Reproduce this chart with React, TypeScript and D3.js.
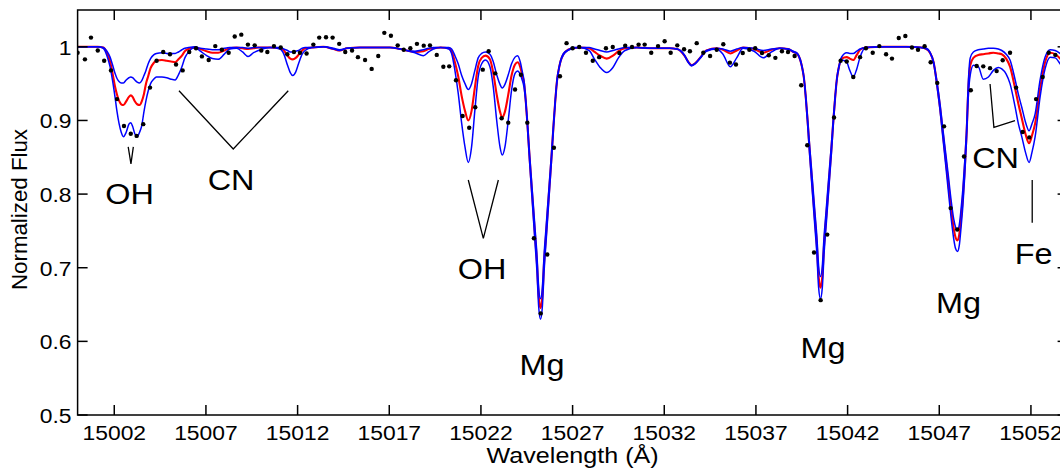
import React from "react";
import * as d3 from "d3";

// ---- model spectra (shared wavelength grid) ----
const wavelength = [
  15000.0, 15000.6, 15001.1, 15001.4, 15001.6, 15001.77, 15001.9, 15002.04, 15002.15, 15002.26,
  15002.38, 15002.5, 15002.65, 15002.8, 15002.9, 15003.0, 15003.12, 15003.25, 15003.38, 15003.5,
  15003.62, 15003.73, 15003.85, 15003.98, 15004.15, 15004.3, 15004.6, 15004.86, 15005.1, 15005.32,
  15005.5, 15005.69, 15005.85, 15006.05, 15006.4, 15006.7, 15007.04, 15007.35, 15007.67, 15008.0,
  15008.3, 15008.67, 15009.0, 15009.3, 15009.6, 15009.86, 15010.5, 15011.04, 15011.25, 15011.45,
  15011.6, 15011.74, 15011.9, 15012.05, 15012.25, 15012.41, 15012.78, 15013.4, 15013.96, 15014.3,
  15014.69, 15015.4, 15017.04, 15017.6, 15017.95, 15018.4, 15018.86, 15019.15, 15019.4, 15019.8,
  15020.25, 15020.4, 15020.58, 15020.76, 15020.95, 15021.13, 15021.31, 15021.49, 15021.67, 15021.85,
  15022.04, 15022.25, 15022.49, 15022.67, 15022.86, 15023.04, 15023.16, 15023.31, 15023.49, 15023.67,
  15023.86, 15024.0, 15024.15, 15024.25, 15024.35, 15024.45, 15024.55, 15024.65, 15024.75, 15024.85,
  15024.95, 15025.05, 15025.15, 15025.25, 15025.35, 15025.45, 15025.55, 15025.65, 15025.75, 15025.85,
  15025.95, 15026.05, 15026.15, 15026.25, 15026.35, 15026.5, 15026.75, 15027.05, 15027.4, 15027.9,
  15028.2, 15028.5, 15028.86, 15029.2, 15029.5, 15029.86, 15030.5, 15031.4, 15032.3, 15032.7,
  15033.1, 15033.3, 15033.49, 15033.7, 15033.95, 15034.3, 15034.86, 15035.2, 15035.6, 15035.95,
  15036.3, 15036.9, 15037.4, 15037.85, 15038.3, 15038.75, 15039.04, 15039.27, 15039.42, 15039.52,
  15039.62, 15039.72, 15039.82, 15039.92, 15040.02, 15040.12, 15040.22, 15040.32, 15040.42, 15040.52,
  15040.62, 15040.72, 15040.82, 15040.92, 15041.02, 15041.12, 15041.22, 15041.32, 15041.42, 15041.52,
  15041.67, 15041.95, 15042.12, 15042.31, 15042.5, 15042.68, 15043.0, 15044.0, 15045.2, 15046.0,
  15046.3, 15046.49, 15046.69, 15046.89, 15047.04, 15047.19, 15047.34, 15047.49, 15047.64, 15047.79,
  15047.89, 15047.99, 15048.09, 15048.19, 15048.29, 15048.39, 15048.49, 15048.59, 15048.69, 15048.86,
  15049.13, 15049.4, 15049.68, 15049.95, 15050.22, 15050.41, 15050.65, 15050.86, 15051.14, 15051.32,
  15051.5, 15051.7, 15051.9, 15052.05, 15052.23, 15052.5, 15052.77, 15053.05, 15053.32, 15053.59,
  15054.0,
];

// strong-abundance model (lower blue)
const fluxHigh = [
  1.0, 1.0, 1.0, 0.998, 0.988, 0.973, 0.955, 0.932, 0.912, 0.896,
  0.884, 0.878, 0.884, 0.895, 0.897, 0.892, 0.882, 0.878, 0.884, 0.893,
  0.912, 0.927, 0.94, 0.95, 0.956, 0.959, 0.959, 0.958, 0.956, 0.955,
  0.962, 0.973, 0.985, 0.993, 0.999, 0.994, 0.988, 0.984, 0.983, 0.99,
  0.997, 0.998, 0.993, 0.987, 0.992, 0.995, 0.999, 0.997, 0.99, 0.975,
  0.965, 0.961, 0.966, 0.977, 0.99, 0.995, 0.999, 1.0, 0.997, 0.995,
  0.998, 0.999, 0.999, 0.997, 0.995, 0.992, 0.988, 0.993, 0.997, 0.999,
  0.997, 0.991, 0.968, 0.937, 0.896, 0.864, 0.843, 0.864, 0.914, 0.959,
  0.977, 0.982, 0.973, 0.946, 0.9, 0.864, 0.853, 0.864, 0.9, 0.941,
  0.964, 0.967, 0.962, 0.955, 0.945, 0.922, 0.885, 0.845, 0.808, 0.771,
  0.734, 0.697, 0.647, 0.63, 0.647, 0.697, 0.734, 0.771, 0.808, 0.845,
  0.885, 0.922, 0.952, 0.969, 0.98, 0.989, 0.995, 0.998, 0.999, 0.995,
  0.983, 0.972, 0.965, 0.972, 0.985, 0.995, 0.999, 0.998, 0.998, 0.997,
  0.988, 0.979, 0.974, 0.977, 0.984, 0.994, 0.997, 0.99, 0.973, 0.985,
  0.998, 0.994, 0.985, 0.993, 0.998, 0.997, 0.993, 0.99, 0.981, 0.971,
  0.956, 0.928, 0.894, 0.856, 0.822, 0.788, 0.754, 0.72, 0.673, 0.658,
  0.673, 0.72, 0.754, 0.788, 0.822, 0.856, 0.894, 0.928, 0.956, 0.971,
  0.982, 0.979, 0.968, 0.959, 0.97, 0.986, 0.999, 1.0, 1.0, 0.999,
  0.997, 0.992, 0.978, 0.944, 0.914, 0.878, 0.842, 0.805, 0.769, 0.739,
  0.726, 0.722, 0.73, 0.755, 0.785, 0.825, 0.875, 0.935, 0.962, 0.975,
  0.973, 0.956, 0.959, 0.968, 0.972, 0.97, 0.963, 0.95, 0.918, 0.895,
  0.878, 0.857, 0.843, 0.856, 0.878, 0.932, 0.97, 0.986, 0.985, 0.977,
  0.96,
];

// best-fit model (red)
const fluxBest = [
  1.0, 1.0, 1.0, 0.999, 0.992, 0.98, 0.965, 0.946, 0.935, 0.927,
  0.922, 0.921, 0.926, 0.932, 0.934, 0.932, 0.926, 0.922, 0.921, 0.926,
  0.936, 0.95, 0.96, 0.971, 0.978, 0.981, 0.982, 0.981, 0.98, 0.979,
  0.983, 0.988, 0.994, 0.997, 0.999, 0.997, 0.994, 0.992, 0.992, 0.995,
  0.998, 0.999, 0.998, 0.997, 0.998, 0.999, 0.999, 0.998, 0.995, 0.988,
  0.984, 0.983, 0.985, 0.989, 0.995, 0.998, 0.999, 1.0, 0.997, 0.995,
  0.998, 0.999, 0.999, 0.997, 0.995, 0.993, 0.994, 0.997, 0.998, 0.999,
  0.998, 0.994, 0.979, 0.96, 0.933, 0.913, 0.9, 0.913, 0.945, 0.974,
  0.985, 0.988, 0.983, 0.965, 0.935, 0.912, 0.904, 0.912, 0.935, 0.961,
  0.976, 0.979, 0.972, 0.962, 0.951, 0.925, 0.89, 0.851, 0.815, 0.78,
  0.744, 0.709, 0.661, 0.645, 0.661, 0.709, 0.744, 0.78, 0.815, 0.851,
  0.89, 0.925, 0.954, 0.97, 0.981, 0.99, 0.996, 0.998, 0.999, 0.998,
  0.993, 0.988, 0.984, 0.988, 0.994, 0.998, 0.999, 0.998, 0.998, 0.997,
  0.988, 0.98, 0.975, 0.978, 0.985, 0.995, 0.998, 0.996, 0.991, 0.995,
  0.999, 0.997, 0.992, 0.996, 0.998, 0.997, 0.993, 0.99, 0.982, 0.972,
  0.957, 0.931, 0.899, 0.863, 0.83, 0.797, 0.765, 0.732, 0.688, 0.673,
  0.688, 0.732, 0.765, 0.797, 0.83, 0.863, 0.899, 0.931, 0.957, 0.972,
  0.984, 0.986, 0.984, 0.982, 0.989, 0.996, 0.999, 1.0, 1.0, 0.999,
  0.997, 0.992, 0.979, 0.947, 0.918, 0.884, 0.85, 0.816, 0.782, 0.753,
  0.741, 0.737, 0.745, 0.768, 0.797, 0.835, 0.882, 0.945, 0.975, 0.985,
  0.989, 0.99, 0.991, 0.992, 0.991, 0.99, 0.984, 0.973, 0.943, 0.922,
  0.903, 0.882, 0.869, 0.879, 0.896, 0.943, 0.979, 0.992, 0.99, 0.984,
  0.97,
];

// weak-abundance model (upper blue)
const fluxLow = [
  1.0, 1.0, 1.0, 0.999, 0.994, 0.986, 0.976, 0.964, 0.957, 0.953,
  0.951, 0.951, 0.955, 0.958, 0.959, 0.958, 0.955, 0.952, 0.951, 0.954,
  0.961, 0.968, 0.977, 0.984, 0.989, 0.991, 0.992, 0.991, 0.991, 0.991,
  0.993, 0.996, 0.998, 0.999, 1.0, 0.998, 0.997, 0.996, 0.996, 0.998,
  0.999, 0.999, 0.999, 0.998, 0.999, 0.999, 0.999, 0.999, 0.997, 0.995,
  0.993, 0.993, 0.994, 0.995, 0.998, 0.999, 0.999, 1.0, 0.998, 0.996,
  0.998, 0.999, 0.999, 0.997, 0.995, 0.994, 0.996, 0.998, 0.999, 0.999,
  0.999, 0.997, 0.988, 0.977, 0.961, 0.95, 0.942, 0.95, 0.968, 0.985,
  0.991, 0.993, 0.99, 0.98, 0.962, 0.949, 0.944, 0.949, 0.962, 0.977,
  0.986, 0.988, 0.979, 0.967, 0.954, 0.928, 0.894, 0.856, 0.822, 0.788,
  0.754, 0.72, 0.673, 0.658, 0.673, 0.72, 0.754, 0.788, 0.822, 0.856,
  0.894, 0.928, 0.956, 0.971, 0.982, 0.991, 0.996, 0.999, 0.999, 0.999,
  0.997, 0.995, 0.993, 0.995, 0.997, 0.999, 0.999, 0.998, 0.998, 0.997,
  0.989, 0.98, 0.975, 0.978, 0.985, 0.995, 0.998, 0.997, 0.994, 0.997,
  0.999, 0.998, 0.995, 0.997, 0.998, 0.997, 0.994, 0.991, 0.983, 0.973,
  0.959, 0.934, 0.903, 0.869, 0.838, 0.807, 0.775, 0.744, 0.702, 0.688,
  0.702, 0.744, 0.775, 0.807, 0.838, 0.869, 0.903, 0.934, 0.959, 0.973,
  0.986, 0.992, 0.991, 0.991, 0.994, 0.997, 0.999, 1.0, 1.0, 0.999,
  0.998, 0.993, 0.98, 0.95, 0.923, 0.89, 0.858, 0.826, 0.793, 0.766,
  0.755, 0.751, 0.758, 0.78, 0.808, 0.845, 0.89, 0.955, 0.985, 0.993,
  0.996, 0.997, 0.998, 0.998, 0.997, 0.995, 0.99, 0.982, 0.955, 0.935,
  0.918, 0.898, 0.886, 0.895, 0.909, 0.955, 0.986, 0.996, 0.995, 0.991,
  0.98,
];

// ---- observed spectrum (black dots) ----
const obsWavelength = [
  15000.0, 15000.4, 15000.73, 15001.1, 15001.45, 15001.82, 15002.15, 15002.53, 15002.9, 15003.22,
  15003.58, 15003.95, 15004.31, 15004.67, 15005.04, 15005.37, 15005.73, 15006.09, 15006.46, 15006.78,
  15007.15, 15007.51, 15007.87, 15008.24, 15008.57, 15008.93, 15009.29, 15009.66, 15010.02, 15010.35,
  15010.71, 15011.08, 15011.44, 15011.8, 15012.13, 15012.49, 15012.86, 15013.18, 15013.55, 15013.91,
  15014.27, 15014.6, 15014.97, 15015.29, 15015.68, 15016.04, 15016.4, 15016.73, 15017.09, 15017.46,
  15017.79, 15018.15, 15018.51, 15018.88, 15019.22, 15019.59, 15019.95, 15020.27, 15020.64, 15021.0,
  15021.36, 15021.69, 15022.1, 15022.42, 15022.78, 15023.13, 15023.49, 15023.86, 15024.18, 15024.53,
  15024.89, 15025.26, 15025.62, 15025.98, 15026.31, 15026.67, 15027.0, 15027.36, 15027.73, 15028.1,
  15028.45, 15028.82, 15029.19, 15029.55, 15029.87, 15030.24, 15030.6, 15030.93, 15031.29, 15031.66,
  15032.02, 15032.35, 15032.71, 15033.08, 15033.4, 15033.77, 15034.13, 15034.5, 15034.86, 15035.22,
  15035.58, 15035.91, 15036.28, 15036.64, 15036.96, 15037.33, 15037.7, 15038.06, 15038.42, 15038.75,
  15039.11, 15039.47, 15039.8, 15040.17, 15040.53, 15040.89, 15041.26, 15041.62, 15041.95, 15042.31,
  15042.68, 15043.0, 15043.37, 15043.73, 15044.1, 15044.42, 15044.79, 15045.15, 15045.51, 15045.84,
  15046.2, 15046.53, 15046.89, 15047.26, 15047.62, 15047.98, 15048.35, 15048.72, 15049.04, 15049.4,
  15049.77, 15050.13, 15050.46, 15050.86, 15051.19, 15051.55, 15051.91, 15052.28, 15052.64, 15052.97,
  15053.33,
];
const obsFlux = [
  0.992, 0.983, 1.0125, 0.995, 0.981, 0.968, 0.929, 0.8925, 0.882, 0.879,
  0.895, 0.9446, 0.981, 0.993, 0.99, 0.976, 0.968, 0.993, 0.998, 0.987,
  0.982, 1.001, 0.996, 0.992, 1.014, 1.0165, 1.003, 1.002, 0.995, 0.993,
  1.001, 0.999, 0.99, 0.993, 0.992, 0.991, 1.003, 1.0125, 1.013, 1.0125,
  1.004, 0.993, 0.995, 0.986, 0.982, 0.97, 0.9875, 1.019, 1.015, 1.002,
  0.996, 0.998, 1.004, 1.0016, 1.002, 0.989, 0.973, 0.9735, 0.9545, 0.906,
  0.89, 0.918, 0.969, 0.994, 0.964, 0.903, 0.897, 0.942, 0.962, 0.897,
  0.74, 0.638, 0.718, 0.863, 0.96, 1.005, 0.998, 0.9997, 0.992, 0.981,
  0.986, 0.998, 0.9997, 0.9916, 1.0016, 0.9997, 1.003, 1.003, 0.992, 1.001,
  1.0075, 0.992, 1.002, 0.9966, 0.994, 1.005, 0.992, 0.9875, 0.996, 1.0034,
  0.9785, 0.976, 0.9916, 0.996, 0.998, 0.9916, 0.9885, 0.985, 0.994, 0.993,
  0.9875, 0.9478, 0.8663, 0.7207, 0.656, 0.745, 0.904, 0.981, 0.98, 0.959,
  0.986, 0.998, 0.992, 1.001, 0.99, 0.984, 1.012, 1.0147, 0.999, 0.996,
  1.0007, 0.979, 0.951, 0.892, 0.781, 0.752, 0.851, 0.941, 0.974, 0.9735,
  0.971, 0.967, 0.9817, 0.992, 0.9446, 0.8844, 0.877, 0.929, 0.959, 0.992,
  0.989,
];

// ---- axes ----
const xTicks = [15002, 15007, 15012, 15017, 15022, 15027, 15032, 15037, 15042, 15047, 15052];
const yTicks = [0.5, 0.6, 0.7, 0.8, 0.9, 1.0];
const yTickLabels = ["0.5", "0.6", "0.7", "0.8", "0.9", "1"];

// ---- annotations (data coordinates) ----
const labelText = ["OH", "CN", "OH", "Mg", "Mg", "Mg", "CN", "Fe"];
const labelWave = [15002.83, 15008.37, 15022.06, 15025.33, 15040.66, 15048.05, 15050.07, 15052.15];
const labelFlux = [0.7865, 0.8055, 0.6847, 0.5543, 0.5778, 0.6389, 0.8352, 0.7051];
const markerPaths: [number, number][][] = [
  [[15002.76, 0.864], [15002.91, 0.841], [15003.04, 0.864]],
  [[15005.53, 0.9404], [15008.49, 0.8612], [15011.49, 0.9404]],
  [[15021.31, 0.8191], [15022.13, 0.7399], [15022.95, 0.8191]],
  [[15049.77, 0.9495], [15049.98, 0.8907], [15051.13, 0.8997]],
  [[15052.07, 0.8191], [15052.07, 0.7612]],
];

const W = 1060;
const H = 469;
const FONT = "'Liberation Sans', Arial, Helvetica, sans-serif";
const STRETCH = 1.08;

export default function App() {
  const x = d3.scaleLinear().domain([15000, 15054]).range([77.6, 1067.6]);
  const y = d3.scaleLinear().domain([0.5, 1.05]).range([415, 10]);
  const [x0, x1] = x.range();
  const [yb, yt] = y.range();

  const line = d3
    .line<number>()
    .x((_, i) => x(wavelength[i]))
    .y((d) => y(d))
    .curve(d3.curveMonotoneX);
  const mline = d3
    .line<[number, number]>()
    .x((d) => x(d[0]))
    .y((d) => y(d[1]));

  const tickLen = 10;
  return (
    <svg
      width={W}
      height={H}
      style={{ position: "absolute", left: 0, top: 0, background: "#fff" }}
      fontFamily={FONT}
    >
      <defs>
        <clipPath id="plotClip">
          <rect x={x0} y={yt} width={x1 - x0} height={yb - yt} />
        </clipPath>
      </defs>
      <rect x={0} y={0} width={W} height={H} fill="#fff" />

      <g clipPath="url(#plotClip)">
        <path d={line(fluxBest) || ""} fill="none" stroke="#ff0000" strokeWidth={2.1} />
        <path d={line(fluxLow) || ""} fill="none" stroke="#0000ff" strokeWidth={1.5} />
        <path d={line(fluxHigh) || ""} fill="none" stroke="#0000ff" strokeWidth={1.5} />
        {obsWavelength.map((w, i) => (
          <circle key={i} cx={x(w)} cy={y(obsFlux[i])} r={2.2} fill="#000" />
        ))}
      </g>

      {/* annotation markers */}
      {markerPaths.map((p, i) => (
        <path key={i} d={mline(p) || ""} fill="none" stroke="#000" strokeWidth={1.3} />
      ))}
      {labelText.map((t, i) => (
        <text
          key={i}
          transform={`translate(${x(labelWave[i])},${y(labelFlux[i])}) scale(${STRETCH},1)`}
          textAnchor="middle"
          fontSize={30}
          fill="#000"
        >
          {t}
        </text>
      ))}

      {/* axes box */}
      <g stroke="#000" strokeWidth={1.5} fill="none">
        <rect x={x0} y={yt} width={x1 - x0} height={yb - yt} />
        {xTicks.map((t) => (
          <g key={t}>
            <line x1={x(t)} x2={x(t)} y1={yb} y2={yb - tickLen} />
            <line x1={x(t)} x2={x(t)} y1={yt} y2={yt + tickLen} />
          </g>
        ))}
        {yTicks.map((t) => (
          <g key={t}>
            <line x1={x0} x2={x0 + tickLen} y1={y(t)} y2={y(t)} />
            <line x1={x1} x2={x1 - tickLen} y1={y(t)} y2={y(t)} />
          </g>
        ))}
      </g>

      {xTicks.map((t) => (
        <text
          key={t}
          transform={`translate(${x(t)},440) scale(${STRETCH + 0.01},1)`}
          textAnchor="middle"
          fontSize={21}
          fill="#000"
        >
          {t}
        </text>
      ))}
      {yTicks.map((t, i) => (
        <text
          key={t}
          transform={`translate(${x0 - 6},${y(t) + 8}) scale(${STRETCH + 0.01},1)`}
          textAnchor="end"
          fontSize={21}
          fill="#000"
        >
          {yTickLabels[i]}
        </text>
      ))}

      <text
        x={(x0 + x1) / 2}
        y={463}
        textAnchor="middle"
        fontSize={21.5}
        fill="#000"
        textLength={172}
        lengthAdjust="spacingAndGlyphs"
      >
        Wavelength (Å)
      </text>
      <text
        transform={`translate(26.7, ${(yb + yt) / 2 - 3}) rotate(-90)`}
        textAnchor="middle"
        fontSize={21.5}
        fill="#000"
        textLength={161}
        lengthAdjust="spacingAndGlyphs"
      >
        Normalized Flux
      </text>
    </svg>
  );
}
